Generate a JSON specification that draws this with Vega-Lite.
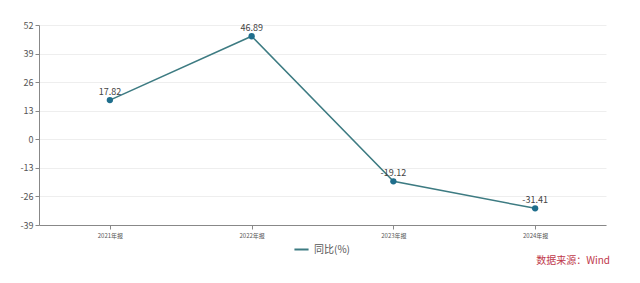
{
  "$schema": "https://vega.github.io/schema/vega-lite/v6.json",
  "width": 567,
  "height": 200,
  "autosize": "none",
  "padding": {"left": 39, "top": 25, "right": 34, "bottom": 58},
  "background": "white",
  "config": {
    "font": "Noto Sans CJK SC",
    "view": {"stroke": null}
  },
  "title": {
    "text": "数据来源：Wind",
    "orient": "bottom",
    "anchor": "end",
    "fontSize": 10,
    "fontWeight": "normal",
    "color": "#c0394b",
    "offset": 12,
    "dx": 4,
    "dy": -11
  },
  "data": {
    "values": [
      {"period": "2021年报", "series": "同比(%)", "value": 17.82},
      {"period": "2022年报", "series": "同比(%)", "value": 46.89},
      {"period": "2023年报", "series": "同比(%)", "value": -19.12},
      {"period": "2024年报", "series": "同比(%)", "value": -31.41}
    ]
  },
  "encoding": {
    "x": {
      "field": "period",
      "type": "nominal",
      "sort": null,
      "scale": {"paddingInner": 0, "paddingOuter": 0},
      "axis": {
        "title": null,
        "labelAngle": 0,
        "labelFontSize": 6,
        "labelColor": "#555",
        "domainColor": "#888",
        "tickColor": "#888",
        "tickSize": 4,
        "labelPadding": 3
      }
    },
    "y": {
      "field": "value",
      "type": "quantitative",
      "scale": {"domain": [-39, 52], "nice": false, "zero": false},
      "axis": {
        "title": null,
        "values": [-39, -26, -13, 0, 13, 26, 39, 52],
        "labelExpr": "'' + datum.value",
        "labelFontSize": 9,
        "labelColor": "#555",
        "domainColor": "#888",
        "tickColor": "#888",
        "tickSize": 4,
        "labelPadding": 2,
        "gridColor": "#eeeeee"
      }
    }
  },
  "layer": [
    {
      "mark": {"type": "line", "strokeWidth": 1.5},
      "encoding": {
        "color": {
          "field": "series",
          "type": "nominal",
          "scale": {"range": ["#3d7b82"]},
          "legend": {
            "title": null,
            "orient": "none",
            "legendX": 254,
            "legendY": 216,
            "symbolType": "stroke",
            "symbolStrokeWidth": 2,
            "symbolSize": 200,
            "labelFontSize": 10,
            "labelColor": "#555"
          }
        }
      }
    },
    {
      "mark": {"type": "point", "filled": true, "size": 40, "color": "#1f6e8c", "opacity": 1}
    },
    {
      "mark": {"type": "text", "dy": -8, "fontSize": 9, "color": "#444"},
      "encoding": {"text": {"field": "value", "type": "nominal"}}
    }
  ]
}
